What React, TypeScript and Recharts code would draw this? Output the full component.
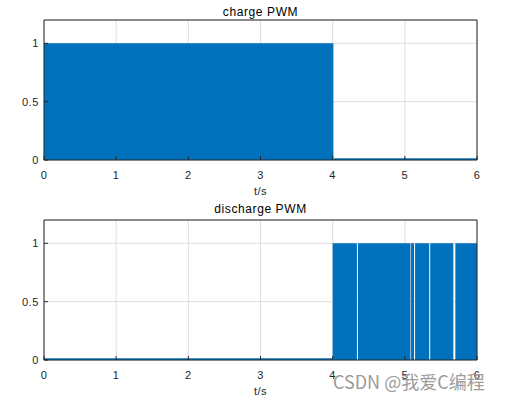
import React from 'react';
import { ComposedChart, Area, Line, XAxis, YAxis, CartesianGrid, ReferenceLine } from 'recharts';

// ---- data ----
const xTicks = [0, 1, 2, 3, 4, 5, 6];
const yTicks = [0, 0.5, 1];

// charge PWM: dense switching (renders as a solid block) until ~4 s, then 0
const chargeTime = [0, 4.01, 6];
const chargeLevel = [1, 0, 0];
const chargeBaseTime = [4.01, 6];
const chargeBaseLevel = [0, 0];

// discharge PWM: 0 until 4 s, then dense switching with a few visible gaps
const dischargeTime = [0, 4, 4.336, 4.35, 5.078, 5.086, 5.128, 5.142, 5.338, 5.352, 5.672, 5.7, 6];
const dischargeLevel = [0, 1, 0, 1, 0, 1, 0, 1, 0, 1, 0, 1, 1];
const dischargeBaseTime = [0, 4];
const dischargeBaseLevel = [0, 0];

const toRows = (t: number[], v: number[]) => t.map((x, i) => ({ t: x, v: v[i] }));

const FONT = '"Liberation Sans", Arial, Helvetica, sans-serif';
const TXT = '#262626';
const BLUE = '#0072BD';

type PanelProps = {
  title: string;
  titleBaseline: number;
  top: number;
  rows: { t: number; v: number }[];
  base: { t: number; v: number }[];
};

function Panel({ title, titleBaseline, top, rows, base }: PanelProps) {
  const tickStyle = { fill: TXT, fontSize: 11, fontFamily: FONT, letterSpacing: 0.6 };
  return (
    <div style={{ position: 'absolute', left: 0, top, width: 507, height: 200 }}>
      <div
        style={{
          position: 'absolute',
          left: 44,
          width: 433,
          top: titleBaseline - 0.8465 * 12,
          fontSize: 12,
          lineHeight: '12px',
          letterSpacing: 0.6,
          fontFamily: FONT,
          color: '#000',
          textAlign: 'center',
          whiteSpace: 'nowrap',
        }}
      >
        {title}
      </div>
      <ComposedChart width={507} height={200} margin={{ top: 20, right: 30, bottom: 10, left: 0 }}>
        <CartesianGrid stroke="#dedede" strokeWidth={1} />
        <XAxis
          dataKey="t"
          type="number"
          domain={[0, 6]}
          ticks={xTicks}
          interval={0}
          allowDataOverflow
          height={30}
          tickSize={-4}
          tickMargin={15}
          tickLine={{ stroke: TXT }}
          axisLine={{ stroke: TXT }}
          tick={tickStyle}
        />
        <YAxis
          type="number"
          domain={[0, 1.2]}
          ticks={yTicks}
          interval={0}
          allowDataOverflow
          width={44}
          tickSize={-4}
          tickMargin={9}
          tickLine={{ stroke: TXT }}
          axisLine={{ stroke: TXT }}
          tick={tickStyle}
        />
        <Area
          data={rows}
          dataKey="v"
          type="stepAfter"
          stroke="none"
          fill={BLUE}
          fillOpacity={1}
          baseValue={0}
          isAnimationActive={false}
        />
        <Line
          data={base}
          dataKey="v"
          type="linear"
          stroke={BLUE}
          strokeWidth={3.5}
          dot={false}
          activeDot={false}
          isAnimationActive={false}
        />
        <ReferenceLine y={1.2} stroke={TXT} strokeWidth={1} />
        <ReferenceLine x={6} stroke={TXT} strokeWidth={1} />
      </ComposedChart>
      <div
        style={{
          position: 'absolute',
          left: 44,
          width: 433,
          top: 195 - 0.8465 * 11,
          fontSize: 11,
          lineHeight: '11px',
          letterSpacing: 0.5,
          fontFamily: FONT,
          color: TXT,
          textAlign: 'center',
        }}
      >
        t/s
      </div>
    </div>
  );
}

export default function App() {
  return (
    <div style={{ position: 'absolute', left: 0, top: 0, width: 507, height: 400, background: '#fff' }}>
      <Panel title="charge PWM" titleBaseline={16.3} top={0} rows={toRows(chargeTime, chargeLevel)} base={toRows(chargeBaseTime, chargeBaseLevel)} />
      <Panel title="discharge PWM" titleBaseline={13.5} top={200} rows={toRows(dischargeTime, dischargeLevel)} base={toRows(dischargeBaseTime, dischargeBaseLevel)} />
      <div
        style={{
          position: 'absolute',
          left: 333,
          top: 388 - 0.88 * 18,
          fontSize: 18,
          lineHeight: '18px',
          fontFamily: '"Noto Sans CJK SC", "Noto Sans", sans-serif',
          color: '#9c9c9c',
          whiteSpace: 'nowrap',
        }}
      >
        CSDN @我爱C编程
      </div>
    </div>
  );
}
